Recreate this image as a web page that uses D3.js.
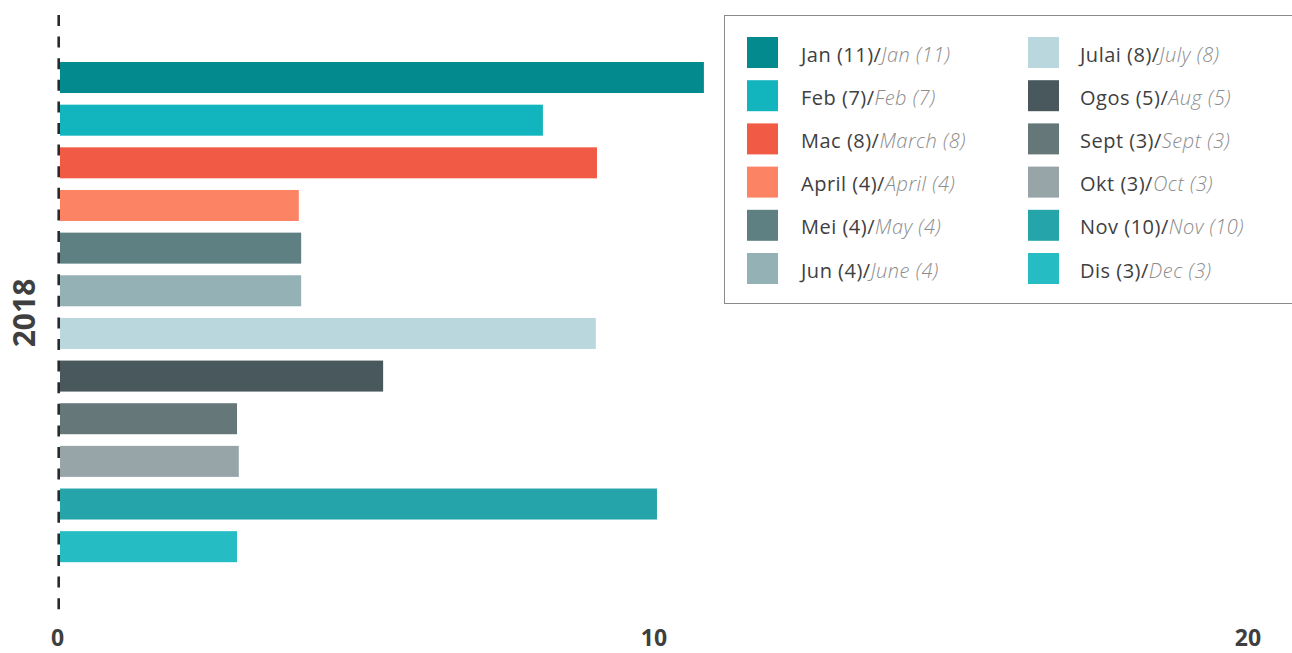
<!DOCTYPE html>
<html><head><meta charset="utf-8">
<script src="https://cdn.jsdelivr.net/npm/d3@7/dist/d3.min.js"></script>
<style>
html,body{margin:0;padding:0;background:#fff;}
svg{display:block;}
</style></head>
<body>
<svg id="chart" width="1292" height="653"></svg>
<script>
// Data
const months = ["Jan","Feb","Mac","April","Mei","Jun","Julai","Ogos","Sept","Okt","Nov","Dis"];
const monthsEn = ["Jan","Feb","March","April","May","June","July","Aug","Sept","Oct","Nov","Dec"];
const counts = [11,7,8,4,4,4,8,5,3,3,10,3];
const barValues = [10.84,8.13,9.04,4.02,4.06,4.06,9.02,5.44,2.98,3.01,10.05,2.98];
const colors = ["#028A8E","#12B5BE","#F15B45","#FC8364","#5F8083","#94B2B6","#B9D7DC","#48585D","#66777A","#97A5A9","#25A5AA","#25BCC4"];
const xTicks = [0,10,20];
const yearLabel = "2018";

const svg = d3.select("#chart");
const x = d3.scaleLinear().domain([0,20]).range([60,1248]);
const p = 0.273;
const y = d3.scaleBand().domain(months).range([56.2,568]).paddingInner(p).paddingOuter(p/2);

// bars
svg.append("g").selectAll("rect").data(months).join("rect")
  .attr("x", x(0))
  .attr("y", d => y(d))
  .attr("width", (d,i) => x(barValues[i]) - x(0))
  .attr("height", y.bandwidth())
  .attr("fill", (d,i) => colors[i]);

// dashed baseline
svg.append("line")
  .attr("x1", x(0)-1.3).attr("x2", x(0)-1.3)
  .attr("y1", 15).attr("y2", 610)
  .attr("stroke", "#2a2a2a").attr("stroke-width", 2.6)
  .attr("stroke-dasharray", "11,10.6");

// x axis labels
const xAxis = d3.axisBottom(x).tickValues(xTicks).tickSize(0).tickPadding(0).tickFormat(d3.format("d"));
const gx = svg.append("g").attr("transform","translate(0,630)").call(xAxis);
gx.select(".domain").remove();
gx.selectAll("text")
  .attr("font-family","'Open Sans', sans-serif")
  .attr("font-weight","700")
  .attr("font-size","23px")
  .attr("fill","#3f3f3f")
  .attr("dx", d => d === 0 ? "-3" : "-0.5")
  .attr("dy","0.7em");

// year label
svg.append("text")
  .attr("transform","translate(35,313) rotate(-90)")
  .attr("text-anchor","middle")
  .attr("font-family","'Open Sans', sans-serif")
  .attr("font-weight","700")
  .attr("font-size","30px")
  .attr("fill","#3f3f3f")
  .text(yearLabel);

// legend
const lg = svg.append("g");
lg.append("rect").attr("x",724.5).attr("y",15.5).attr("width",600).attr("height",288)
  .attr("fill","#fff").attr("stroke","#8a8a8a").attr("stroke-width",1);
const rowStep = 43.2;
const items = lg.selectAll("g.item").data(months).join("g").attr("class","item")
  .attr("transform",(d,i) => {
    const col = Math.floor(i/6), row = i%6;
    return `translate(${col===0?747:1028},${37 + row*rowStep})`;
  });
items.append("rect").attr("width",31).attr("height",31).attr("fill",(d,i)=>colors[i]);
const t = items.append("text").attr("x",(d,i)=> i<6 ? 54 : 52).attr("y",24.5)
  .attr("font-family","'Open Sans', sans-serif").attr("font-size","20px")
  .attr("letter-spacing","0.5px");
t.append("tspan").attr("fill","#404040").text((d,i)=> `${d} (${counts[i]})/`);
t.append("tspan").attr("fill","#8c8c8c").attr("font-style","italic").attr("font-weight","300")
  .text((d,i)=> `${monthsEn[i]} (${counts[i]})`);
</script>
</body></html>
